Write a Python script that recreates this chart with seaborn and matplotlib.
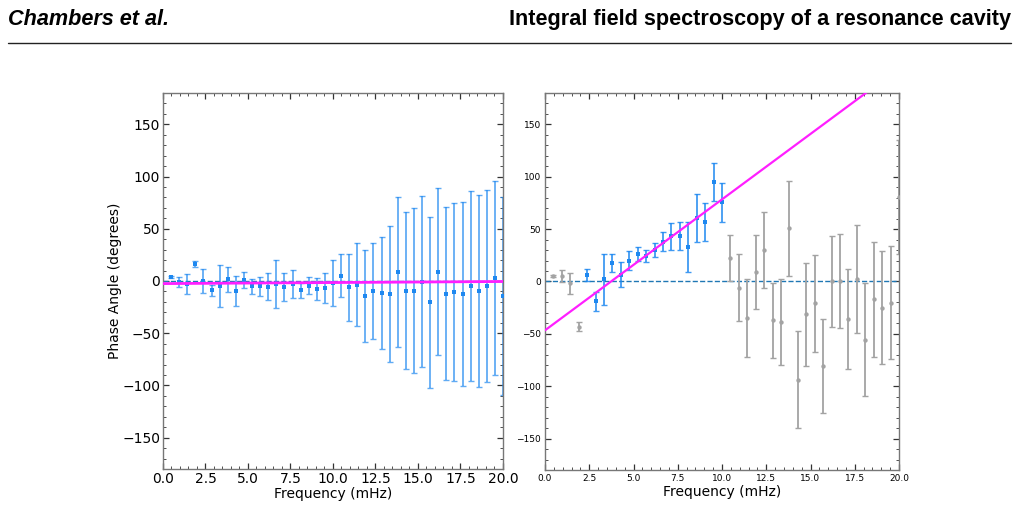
import numpy as np
import matplotlib
matplotlib.use("Agg")
import matplotlib.pyplot as plt
from matplotlib.ticker import MultipleLocator, AutoMinorLocator
import seaborn as sns

# frequencies (mHz), 42 bins up to 20 mHz
freq = [0.476, 0.952, 1.429, 1.905, 2.381, 2.857, 3.333, 3.810, 4.286, 4.762,
        5.238, 5.714, 6.190, 6.667, 7.143, 7.619, 8.095, 8.571, 9.048, 9.524,
        10.000, 10.476, 10.952, 11.429, 11.905, 12.381, 12.857, 13.333, 13.810, 14.286,
        14.762, 15.238, 15.714, 16.190, 16.667, 17.143, 17.619, 18.095, 18.571, 19.048,
        19.524, 20.000]

# left panel: phase and error
left_phase = [4, -1, -3, 16, 0, -9, -4.5, 1.5, -9.5, 1,
              -5, -5, -5.5, -2.5, -6, -3, -9, -4.5, -8, -7,
              -2, 5, -6, -3.5, -14, -9.5, -11.5, -12.5, 8.7, -9.3,
              -9.3, -0.6, -20.5, 9, -12, -10.5, -12.5, -5, -9.3, -4.5,
              2.6, -14.5]
left_err = [1, 4.5, 9.5, 3, 11.5, 5, 20, 12, 14, 7.5,
            7, 9, 13, 23, 13.5, 13.5, 7, 8, 10.5, 14.5,
            22, 20.5, 32, 40, 44, 46, 54, 65, 71.5, 75,
            79, 81.5, 82, 80, 83, 85, 88, 91, 92, 92,
            93, 95]
left_fit_x = [0, 20]
left_fit_y = [-2.5, -0.5]

# right panel: phase and error, blue points are the fitted range
right_phase = [5, 5, -1.6, -43, 6.4, -19, 2, 17.5, 6.4, 20,
               26, 24.5, 30, 38, 43, 43.3, 33, 61, 57, 95,
               75.5, 22, -6, -35, 9.2, 30, -37, -39, 50.6, -93.6,
               -31.5, -21, -81, 0, 0.6, -36, 2.5, -55.7, -17, -25,
               -20.4, 81]
right_err = [1, 5.7, 10, 4, 6, 9, 24, 8.5, 12, 8.7,
             6.5, 6, 7, 9, 12.5, 13.5, 24, 23, 18.3, 17.7,
             19, 22, 32, 37, 35.6, 36, 36, 41, 45, 46,
             49, 46, 45, 43, 45, 48, 51.5, 54, 55, 54,
             54, 54.5]
fit_first, fit_last = 4, 20  # indices of fitted (blue) points
right_fit_x = [0, 20]
right_fit_y = [-46.6, 203.4]

blue = "#1e88f0"
grey = "#a3a3a3"
magenta = "#ff1fff"

sns.set_style("ticks")
plt.rcParams["font.family"] = ["DejaVu Sans"]
plt.rcParams["text.color"] = "black"
plt.rcParams["axes.labelcolor"] = "black"
plt.rcParams["xtick.labelcolor"] = "black"
plt.rcParams["ytick.labelcolor"] = "black"

fig = plt.figure(figsize=(10.18, 5.05), dpi=100)
ax1 = fig.add_axes([0.1601, 0.0713, 0.334, 0.7446])
ax2 = fig.add_axes([0.5354, 0.0693, 0.3477, 0.7466])


def style_axis(ax, fs, pad):
    ax.set_xlim(0, 20)
    ax.set_ylim(-180, 180)
    ax.xaxis.set_major_locator(MultipleLocator(2.5))
    ax.yaxis.set_major_locator(MultipleLocator(50))
    ax.xaxis.set_minor_locator(AutoMinorLocator(5))
    ax.yaxis.set_minor_locator(AutoMinorLocator(5))
    ax.tick_params(which="both", direction="in", top=True, right=True,
                   labelsize=fs, color="#333333", labelcolor="black", pad=pad)
    ax.tick_params(which="major", length=4, width=0.9)
    ax.tick_params(which="minor", length=2, width=0.6)
    for s in ax.spines.values():
        s.set_color("#777777")
        s.set_linewidth(1.0)
    ax.set_xlabel("Frequency (mHz)", fontsize=10, labelpad=1)


# left panel
ax1.axhline(0, ls="--", lw=1, color="#1f77b4", zorder=1)
ax1.errorbar(freq, left_phase, yerr=left_err, fmt="none", ecolor=blue,
             alpha=0.7, elinewidth=1.3, capsize=2, capthick=1.0, zorder=2)
sns.scatterplot(x=freq, y=left_phase, ax=ax1, color=blue, marker="s", s=12,
                linewidth=0, zorder=3)
sns.lineplot(x=left_fit_x, y=left_fit_y, ax=ax1, color=magenta, lw=2, zorder=4)
style_axis(ax1, 10, 2)
ax1.set_ylabel("Phase Angle (degrees)", fontsize=10, labelpad=0)

# right panel
fr = np.array(freq)
rp = np.array(right_phase)
re_ = np.array(right_err)
mask = np.zeros(len(freq), dtype=bool)
mask[fit_first:fit_last + 1] = True

ax2.axhline(0, ls="--", lw=1, color="#1f77b4", zorder=1)
ax2.errorbar(fr[~mask], rp[~mask], yerr=re_[~mask], fmt="none", ecolor=grey,
             elinewidth=1.3, capsize=2, capthick=1.0, zorder=2)
sns.scatterplot(x=fr[~mask], y=rp[~mask], ax=ax2, color=grey, s=10,
                linewidth=0, zorder=3)
ax2.errorbar(fr[mask], rp[mask], yerr=re_[mask], fmt="none", ecolor=blue,
             alpha=0.85, elinewidth=1.3, capsize=2, capthick=1.0, zorder=2)
sns.scatterplot(x=fr[mask], y=rp[mask], ax=ax2, color=blue, marker="s", s=10,
                linewidth=0, zorder=3)
sns.lineplot(x=right_fit_x, y=right_fit_y, ax=ax2, color=magenta, lw=1.6, zorder=4)
style_axis(ax2, 6.5, 3)
ax2.set_ylabel("")

# page header
hdr_font = ["Liberation Sans Narrow", "Liberation Sans", "DejaVu Sans"]
fig.text(0.008, 0.982, "Chambers et al.", fontsize=15.6, fontweight="bold",
         fontstyle="italic", ha="left", va="top", family=hdr_font, color="black")
fig.text(0.993, 0.982, "Integral field spectroscopy of a resonance cavity",
         fontsize=15.6, fontweight="bold", ha="right", va="top", family=hdr_font,
         color="black")
fig.add_artist(plt.Line2D([0.008, 0.993], [0.915, 0.915], color="#222222", lw=1))

fig.savefig("out.png", dpi=100)
